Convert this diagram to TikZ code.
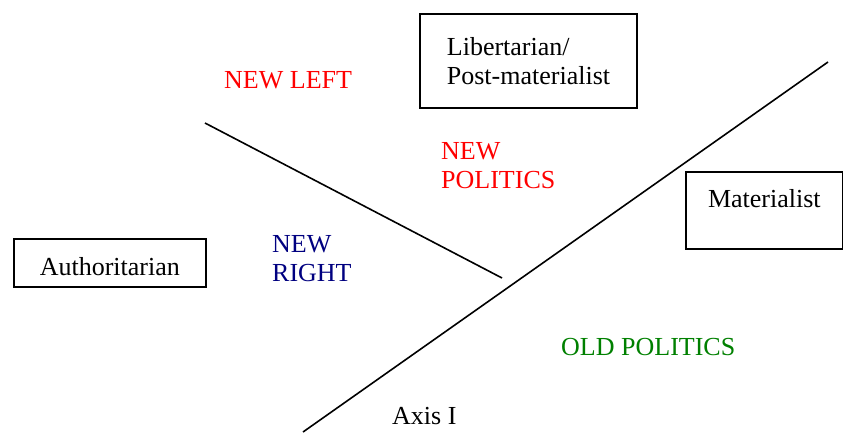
\documentclass[tikz,border=0pt]{standalone}
\usepackage{fontspec}
\setmainfont{Liberation Serif}
\definecolor{navyblue}{RGB}{0,0,128}
\definecolor{oldgreen}{RGB}{0,128,0}
\begin{document}
\begin{tikzpicture}[x=1pt,y=-1pt,
  every node/.style={font=\fontsize{26}{29}\selectfont},
  boxnode/.style={draw,line width=1.7pt,inner sep=0pt},
  lbl/.style={inner sep=0pt,anchor=base west,align=left},
  axisline/.style={line width=1.6pt}]
\useasboundingbox (0,0) rectangle (843,434);
\node[boxnode,minimum width=217pt,minimum height=94pt,align=left] (lib) at (528.5,61) {Libertarian/\\Post-materialist};
\node[boxnode,align=center,text width=192pt,text height=37pt,text depth=11pt,anchor=north west] (auth) at (13,238) {Authoritarian};
\node[boxnode,align=center,text width=157pt,text height=36pt,text depth=41pt,anchor=north west] (mat) at (685,171) {Materialist};
\coordinate (a1) at (303,432);
\coordinate (a2) at (828,62);
\coordinate (b1) at (205,123);
\coordinate (b2) at (502,278);
\draw[axisline] (a1) -- (a2);
\draw[axisline] (b1) -- (b2);
\node[lbl,text=red] (nl) at (224,88) {NEW LEFT};
\node[lbl,text=red] (np) at (441,188) {NEW\\POLITICS};
\node[lbl,text=navyblue] (nr) at (272,281) {NEW\\RIGHT};
\node[lbl,text=oldgreen] (op) at (561,355) {OLD POLITICS};
\node[lbl] (ax) at (392,424) {Axis I};
\end{tikzpicture}
\end{document}
